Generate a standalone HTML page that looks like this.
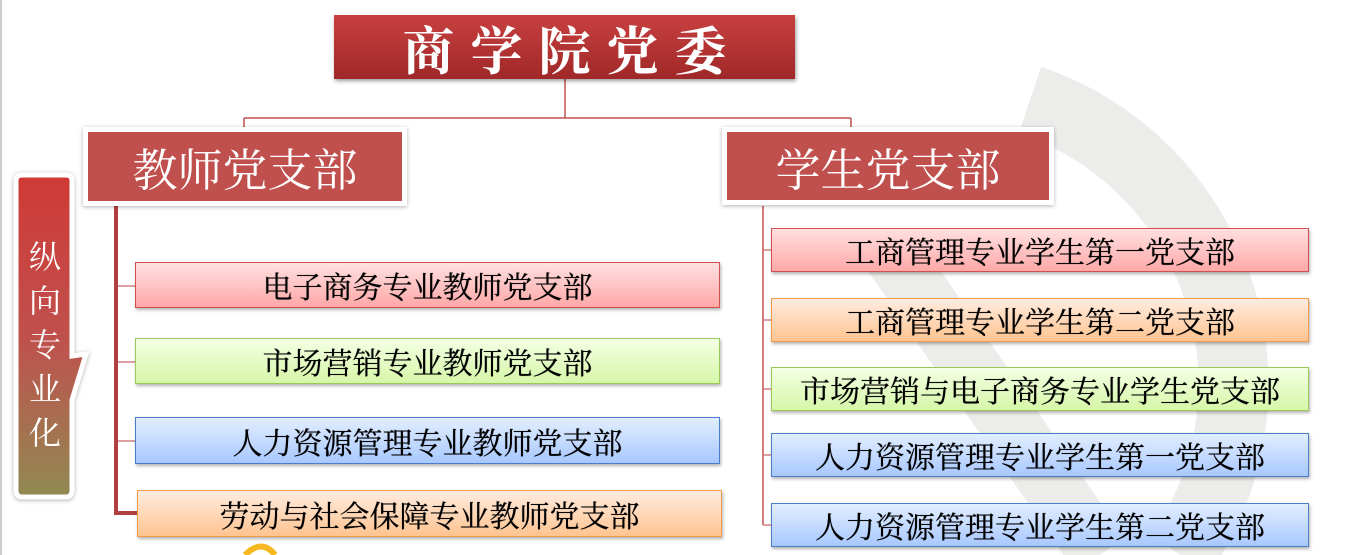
<!DOCTYPE html>
<html><head><meta charset="utf-8"><style>
body{margin:0;width:1361px;height:555px;background:#fff;position:relative;overflow:hidden;font-family:"Liberation Serif","Noto Serif CJK SC",serif}
.a{position:absolute;box-sizing:border-box}
.c{display:flex;align-items:center;justify-content:center;white-space:nowrap;font-size:30px;color:#000;box-shadow:1px 2px 3px rgba(0,0,0,.3);text-shadow:0 0 .6px #000}
.r{background:linear-gradient(#ffe0e0,#ffa8a8);border:1.5px solid #d05050}
.g{background:linear-gradient(#f4ffe4,#d6f7a8);border:1.5px solid #9bc85a}
.b{background:linear-gradient(#e2eeff,#a8c8ff);border:1.5px solid #4a7ec8}
.o{background:linear-gradient(#ffece0,#ffc490);border:1.5px solid #f39a48}
.h{background:#fff;box-shadow:0 1px 4px rgba(0,0,0,.3)}
.hi{position:absolute;left:5px;top:5px;right:5px;bottom:5px;background:#c0504d;color:#fff;font-size:45px;display:flex;align-items:center;justify-content:center;font-family:"Liberation Serif","Noto Serif CJK SC",serif}
</style></head><body>
<div class="a" style="left:0;top:0;width:2px;height:555px;background:#ccc"></div>
<svg class="a" style="left:0;top:0" width="1361" height="555">
<path d="M1030 100 A300 300 0 0 1 1180 555" stroke="#ececea" stroke-width="70" fill="none"/>
<path d="M890 250 L1100 555" stroke="#ececea" stroke-width="60" fill="none"/>
<line x1="565" y1="79" x2="565" y2="118" stroke="#c0504d" stroke-width="1.5"/>
<line x1="244" y1="118" x2="851" y2="118" stroke="#c0504d" stroke-width="1.5"/>
<line x1="244" y1="118" x2="244" y2="130" stroke="#c0504d" stroke-width="1.5"/>
<line x1="851" y1="118" x2="851" y2="130" stroke="#c0504d" stroke-width="1.5"/>
<path d="M116 206 V513 H138" stroke="#b04040" stroke-width="4" fill="none"/>
<g stroke="#d08080" stroke-width="1.5"><line x1="118" y1="286" x2="135" y2="286"/><line x1="118" y1="362" x2="135" y2="362"/><line x1="118" y1="441" x2="135" y2="441"/></g>
<line x1="763" y1="206" x2="763" y2="525" stroke="#c0504d" stroke-width="1.5"/>
<g stroke="#d08080" stroke-width="1.5"><line x1="763" y1="250" x2="771" y2="250"/><line x1="763" y1="320" x2="771" y2="320"/><line x1="763" y1="389" x2="771" y2="389"/><line x1="763" y1="455" x2="771" y2="455"/><line x1="763" y1="525" x2="771" y2="525"/></g>
<defs><linearGradient id="lg" x1="0" y1="0" x2="0" y2="1"><stop offset="0" stop-color="#cf3a36"/><stop offset=".5" stop-color="#c0504d"/><stop offset="1" stop-color="#918a52"/></linearGradient></defs>
<path d="M22 175 H66 Q72 175 72 181 V356 L86 354 L72 400 V490 Q72 497 66 497 H22 Q16 497 16 490 V181 Q16 175 22 175Z" fill="url(#lg)" stroke="#fff" stroke-width="5" style="filter:drop-shadow(0 1px 2px rgba(0,0,0,.3))"/>
<path d="M245 555 Q262 538 275 555" stroke="#f5b820" stroke-width="6" fill="none"/>
</svg>
<div class="a" style="left:20px;top:235px;width:50px;color:#fff;font-size:32px;line-height:44px;text-align:center">纵<br>向<br>专<br>业<br>化</div>
<div class="a" style="left:334px;top:15px;width:461px;height:64px;background:linear-gradient(#c84040,#a02828);box-shadow:1px 2px 4px rgba(0,0,0,.4);color:#fff;font-size:52px;font-weight:bold;letter-spacing:16px;padding-left:16px;display:flex;align-items:center;justify-content:center;font-family:'Liberation Serif','Noto Serif CJK SC',serif">商学院党委</div>
<div class="a h" style="left:83px;top:127px;width:324px;height:79px"><div class="hi">教师党支部</div></div>
<div class="a h" style="left:722px;top:127px;width:332px;height:78px"><div class="hi">学生党支部</div></div>
<div class="a c r" style="left:135px;top:262px;width:585px;height:46px">电子商务专业教师党支部</div>
<div class="a c g" style="left:135px;top:338px;width:585px;height:46px">市场营销专业教师党支部</div>
<div class="a c b" style="left:135px;top:417px;width:585px;height:47px">人力资源管理专业教师党支部</div>
<div class="a c o" style="left:137px;top:490px;width:585px;height:47px">劳动与社会保障专业教师党支部</div>
<div class="a c r" style="left:771px;top:228px;width:538px;height:44px">工商管理专业学生第一党支部</div>
<div class="a c o" style="left:771px;top:298px;width:538px;height:44px">工商管理专业学生第二党支部</div>
<div class="a c g" style="left:771px;top:367px;width:538px;height:44px">市场营销与电子商务专业学生党支部</div>
<div class="a c b" style="left:771px;top:433px;width:538px;height:44px">人力资源管理专业学生第一党支部</div>
<div class="a c b" style="left:771px;top:503px;width:538px;height:44px">人力资源管理专业学生第二党支部</div>
</body></html>
